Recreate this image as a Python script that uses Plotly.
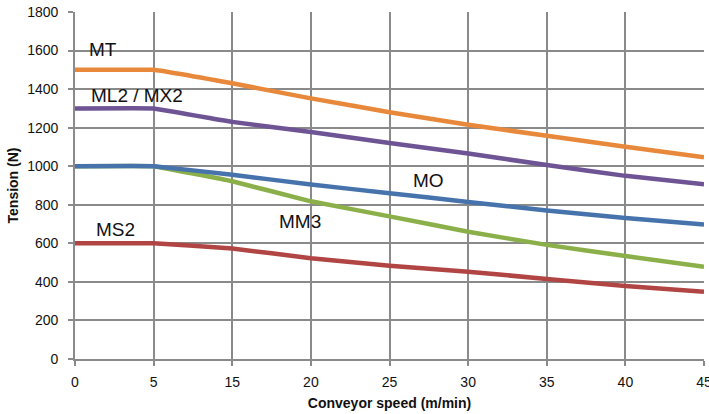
import plotly.graph_objects as go

speeds = ["0", "5", "15", "20", "25", "30", "35", "40", "45"]
mt = [1500, 1500, 1430, 1352, 1280, 1215, 1158, 1101, 1046]
ml2 = [1300, 1300, 1230, 1177, 1121, 1066, 1006, 950, 907]
mo = [1000, 1000, 956, 905, 860, 815, 770, 731, 697]
mm3 = [1000, 1000, 922, 818, 740, 660, 592, 534, 479]
ms2 = [600, 600, 573, 523, 484, 453, 415, 379, 349]

series = [
    ("MT", mt, "#E8883A"),
    ("ML2 / MX2", ml2, "#6E5494"),
    ("MM3", mm3, "#8BB04A"),
    ("MO", mo, "#4673AB"),
    ("MS2", ms2, "#B04543"),
]

labels = [
    ("MT", 0.35, 1608),
    ("ML2 / MX2", 0.785, 1368),
    ("MO", 4.5, 927),
    ("MM3", 2.86, 714),
    ("MS2", 0.51, 670),
]

fig = go.Figure()
for name, vals, col in series:
    fig.add_trace(go.Scatter(
        x=speeds, y=vals, mode="lines", name=name,
        line=dict(color=col, width=4.5, shape="spline", smoothing=0.15),
        showlegend=False, hoverinfo="skip",
    ))

for txt, xv, yv in labels:
    fig.add_annotation(x=xv, y=yv, xref="x", yref="y", text=txt, showarrow=False,
                       font=dict(family="Liberation Sans, Arial", size=19, color="#111111"))

grid = "#8A8A8A"
fig.update_layout(
    width=709, height=414,
    margin=dict(l=75, r=5, t=12, b=55),
    paper_bgcolor="white", plot_bgcolor="white",
    font=dict(family="Liberation Sans, Arial", color="#111111"),
    xaxis=dict(
        type="category", range=[0, 8], showgrid=True, gridcolor=grid, gridwidth=1.6,
        showline=True, linecolor=grid, linewidth=1.6, automargin=False,
        ticks="outside", ticklen=5, tickcolor=grid, tickwidth=1.6,
        tickfont=dict(size=14), zeroline=False, ticklabelstandoff=4,
        title=dict(text="<b>Conveyor speed (m/min)</b>", font=dict(size=14), standoff=10),
    ),
    yaxis=dict(
        range=[0, 1800], dtick=200, showgrid=True, gridcolor=grid, gridwidth=1.6,
        showline=True, linecolor=grid, linewidth=1.6, automargin=False,
        ticks="outside", ticklen=5, tickcolor=grid, tickwidth=1.6,
        tickfont=dict(size=14), zeroline=False, ticklabelstandoff=7,
        title=dict(text="<b>Tension (N)</b>", font=dict(size=14), standoff=5),
    ),
)

fig.write_html("out.html", post_script="document.body.style.margin='0';",
               config={"displayModeBar": False})
